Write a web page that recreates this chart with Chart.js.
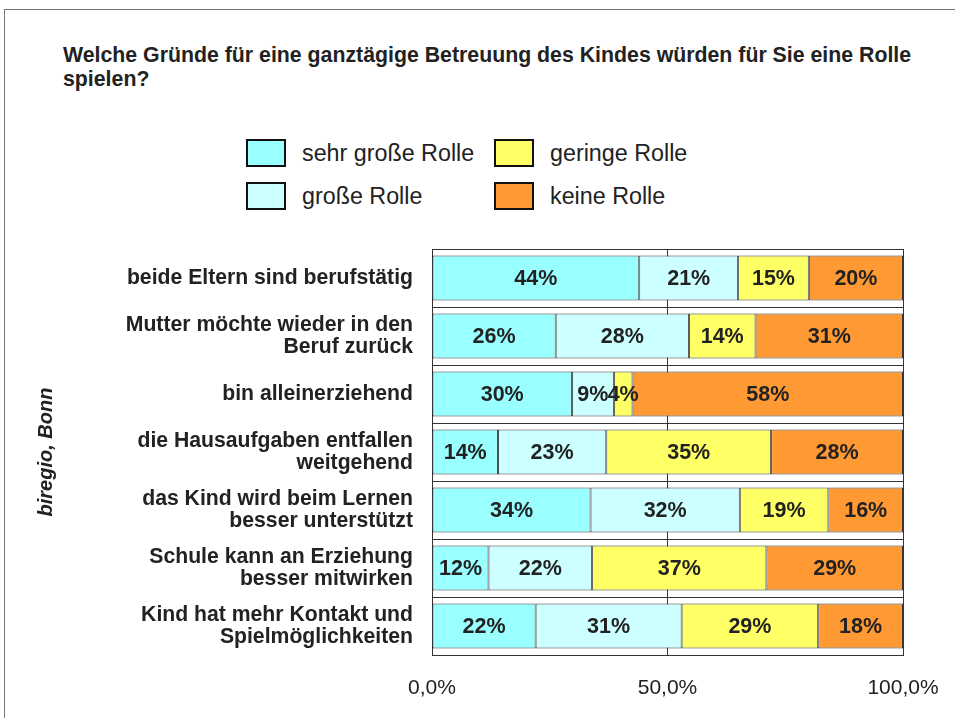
<!DOCTYPE html>
<html>
<head>
<meta charset="utf-8">
<script src="https://cdn.jsdelivr.net/npm/chart.js@4.4.1/dist/chart.umd.min.js"></script>
<style>
  body { margin: 0; background: #fff; }
  #wrap { position: relative; width: 955px; height: 718px; overflow: hidden; font-family: "Liberation Sans", Arial, sans-serif; color: #222; }
  #rahmen { position: absolute; left: 4px; top: 9px; width: 1000px; height: 800px; border: 1px solid #777; }
  #titel { position: absolute; left: 63px; top: 43px; width: 875px; font-weight: bold; font-size: 21.3px; line-height: 24px; }
  .leg { position: absolute; height: 28px; display: flex; align-items: center; font-size: 23.3px; white-space: nowrap; }
  .leg span.box { width: 40px; height: 28px; box-sizing: border-box; border: 2px solid #111; margin-right: 16px; }
  canvas { position: absolute; left: 0; top: 0; }
</style>
</head>
<body>
<div id="wrap">
  <div id="rahmen"></div>
  <div id="titel">Welche Gründe für eine ganztägige Betreuung des Kindes würden für Sie eine Rolle spielen?</div>
  <div id="legende"></div>
  <canvas id="grafico" width="955" height="718"></canvas>
</div>
<script>
// Kategorien und Anteile (in %)
var kategorien = [
  'beide Eltern sind berufstätig',
  ['Mutter möchte wieder in den', 'Beruf zurück'],
  'bin alleinerziehend',
  ['die Hausaufgaben entfallen', 'weitgehend'],
  ['das Kind wird beim Lernen', 'besser unterstützt'],
  ['Schule kann an Erziehung', 'besser mitwirken'],
  ['Kind hat mehr Kontakt und', 'Spielmöglichkeiten']
];
var sehrGross = [44, 26, 30, 14, 34, 12, 22];
var gross     = [21, 28, 9, 23, 32, 22, 31];
var gering    = [15, 14, 4, 35, 19, 37, 29];
var keine     = [20, 31, 58, 28, 16, 29, 18];
var serien = ['sehr große Rolle', 'große Rolle', 'geringe Rolle', 'keine Rolle'];
var farben = ['#99FFFF', '#CCFFFF', '#FFFF66', '#FF9933'];
var xTicks = [0, 50, 100];

var werte = [sehrGross, gross, gering, keine];

// jede Zeile wird wie ein 100%-Balken auf ihre Summe bezogen
var summen = kategorien.map(function (k, i) {
  return werte.reduce(function (s, w) { return s + w[i]; }, 0);
});

var datasets = werte.map(function (w, d) {
  return {
    label: serien[d],
    data: w.map(function (v, i) { return v / summen[i] * 100; }),
    rohwerte: w,
    backgroundColor: farben[d],
    borderColor: '#3a3a3a',
    borderWidth: 1,
    borderSkipped: false,
    categoryPercentage: 1,
    barPercentage: 0.78
  };
});

// Legende: zwei Spalten, zwei Zeilen
var legende = document.getElementById('legende');
var spaltenX = [246, 494];
var zeilenY = [139, 182];
for (var i = 0; i < serien.length; i++) {
  var el = document.createElement('div');
  el.className = 'leg';
  el.style.left = spaltenX[Math.floor(i / 2)] + 'px';
  el.style.top = zeilenY[i % 2] + 'px';
  el.innerHTML = '<span class="box" style="background:' + farben[i] + '"></span>' + serien[i];
  legende.appendChild(el);
}

// Prozentwerte mittig in die Balken schreiben
var prozentLabels = {
  id: 'prozentLabels',
  afterDatasetsDraw: function (chart) {
    var ctx = chart.ctx;
    ctx.save();
    ctx.font = 'bold 21.5px "Liberation Sans", Arial, sans-serif';
    ctx.fillStyle = '#222';
    ctx.textAlign = 'center';
    ctx.textBaseline = 'middle';
    chart.data.datasets.forEach(function (ds, d) {
      chart.getDatasetMeta(d).data.forEach(function (bar, i) {
        var p = bar.getProps(['x', 'y', 'base'], true);
        ctx.fillText(ds.rohwerte[i] + '%', (p.x + p.base) / 2, p.y + 1);
      });
    });
    ctx.restore();
  }
};

Chart.defaults.font.family = '"Liberation Sans", Arial, sans-serif';
Chart.defaults.color = '#222';

new Chart(document.getElementById('grafico'), {
  type: 'bar',
  data: { labels: kategorien, datasets: datasets },
  options: {
    indexAxis: 'y',
    responsive: false,
    animation: false,
    layout: { padding: { left: 30, top: 249, right: 52, bottom: 0 } },
    plugins: {
      legend: { display: false },
      tooltip: { enabled: false }
    },
    scales: {
      x: {
        stacked: true,
        min: 0,
        max: 100,
        afterBuildTicks: function (scale) {
          scale.ticks = xTicks.map(function (v) { return { value: v }; });
        },
        afterFit: function (scale) {
          scale.height = 63;
          scale.paddingLeft = 0;
          scale.paddingRight = 0;
        },
        ticks: {
          font: { size: 21 },
          padding: 21,
          maxRotation: 0,
          callback: function (v) { return v.toFixed(1).replace('.', ',') + '%'; }
        },
        grid: { color: '#333', lineWidth: 1, drawTicks: false },
        border: { color: '#333' }
      },
      y: {
        stacked: true,
        afterFit: function (scale) { scale.width = 402; },
        ticks: {
          font: { size: 21.2, weight: 'bold', lineHeight: 1.04 },
          padding: 19
        },
        grid: { color: '#333', lineWidth: 1, drawTicks: false, offset: true },
        border: { color: '#333' },
        title: {
          display: true,
          text: 'biregio, Bonn',
          font: { size: 20, weight: 'bold', style: 'italic' },
          padding: { top: 4, bottom: 0 }
        }
      }
    }
  },
  plugins: [prozentLabels]
});
</script>
</body>
</html>
